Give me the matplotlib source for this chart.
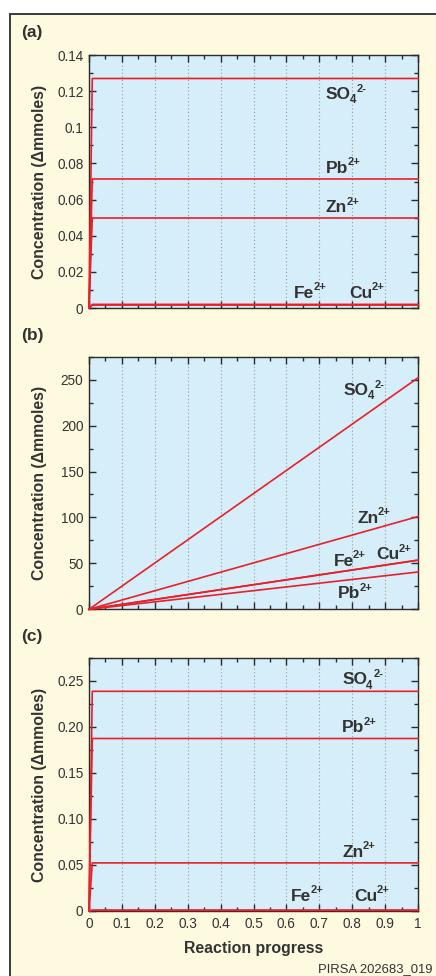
import matplotlib
matplotlib.use("Agg")
import matplotlib.pyplot as plt
from matplotlib.patches import Rectangle
from matplotlib.transforms import offset_copy
from matplotlib.ticker import FixedLocator, MultipleLocator

# ---------------- data ----------------
progress_ac = [0.0, 0.01, 1.0]
a_so4 = [0.0, 0.127, 0.127]
a_pb = [0.0, 0.0714, 0.0714]
a_zn = [0.0, 0.0498, 0.0498]
a_fe = [0.0, 0.0016, 0.0016]
a_cu = [0.0, 0.0020, 0.0020]

progress_b = [0.0, 1.0]
b_so4 = [0.0, 252.0]
b_zn = [0.0, 101.0]
b_fe = [0.0, 53.5]
b_cu = [0.0, 53.5]
b_pb = [0.0, 40.6]

c_so4 = [0.0, 0.2388, 0.2388]
c_pb = [0.0, 0.1875, 0.1875]
c_zn = [0.0, 0.0523, 0.0523]
c_fe = [0.0, 0.0008, 0.0008]
c_cu = [0.0, 0.0008, 0.0008]

x_ticks = [0, 0.1, 0.2, 0.3, 0.4, 0.5, 0.6, 0.7, 0.8, 0.9, 1.0]
x_ticklabels = ["0", "0.1", "0.2", "0.3", "0.4", "0.5", "0.6", "0.7", "0.8", "0.9", "1"]
a_yticks = [0, 0.02, 0.04, 0.06, 0.08, 0.10, 0.12, 0.14]
a_yticklabels = ["0", "0.02", "0.04", "0.06", "0.08", "0.1", "0.12", "0.14"]
b_yticks = [0, 50, 100, 150, 200, 250]
b_yticklabels = ["0", "50", "100", "150", "200", "250"]
c_yticks = [0, 0.05, 0.10, 0.15, 0.20, 0.25]
c_yticklabels = ["0", "0.05", "0.10", "0.15", "0.20", "0.25"]

# ---------------- style ----------------
FONT = ["Liberation Sans", "DejaVu Sans"]
plt.rcParams["font.family"] = FONT
CREAM = "#FEFADF"
BLUE = "#D6EEF9"
RED = "#E8202A"
DARK = "#2B2B2B"
TXT = "#333333"

W, H = 436, 976
fig = plt.figure(figsize=(W / 100, H / 100), dpi=100)
fig.patch.set_facecolor("white")

# outer frame
fig.patches.append(Rectangle((10 / W, -0.05), 1.2, 1 - 14 / H + 0.05,
                             transform=fig.transFigure, facecolor=CREAM,
                             edgecolor=DARK, lw=1.3, zorder=-10))

def px_axes(top, bottom, left=89, right=418):
    return [left / W, 1 - bottom / H, (right - left) / W, (bottom - top) / H]

ax_a = fig.add_axes(px_axes(55, 308))
ax_b = fig.add_axes(px_axes(356.7, 609.3))
ax_c = fig.add_axes(px_axes(658, 911))

def style_axes(ax, ylim, yticks, yticklabels, yminor, show_x):
    ax.set_facecolor(BLUE)
    ax.set_xlim(0, 1)
    ax.set_ylim(*ylim)
    ax.xaxis.set_major_locator(FixedLocator(x_ticks))
    ax.xaxis.set_minor_locator(MultipleLocator(0.05))
    ax.yaxis.set_major_locator(FixedLocator(yticks))
    ax.yaxis.set_minor_locator(MultipleLocator(yminor))
    ax.set_yticklabels(yticklabels)
    if show_x:
        ax.set_xticklabels(x_ticklabels)
    else:
        ax.set_xticklabels([])
    ax.tick_params(which="both", direction="in", top=True, right=True,
                   color=DARK, labelcolor=TXT, labelsize=9.8)
    ax.tick_params(which="major", length=5.2, width=1.0)
    ax.tick_params(which="minor", length=3.2, width=1.0)
    ax.tick_params(axis="y", pad=4)
    ax.tick_params(axis="x", pad=4)
    for s in ax.spines.values():
        s.set_color(DARK)
        s.set_linewidth(1.0)
    ax.grid(axis="x", which="major", color="#9A9A9A", linestyle=(0, (1, 2.2)), lw=0.8)
    ax.set_axisbelow(True)
    ax.set_ylabel("Concentration (\u0394mmoles)", fontsize=11.4, fontweight="bold", color=TXT)
    ax.yaxis.set_label_coords(-0.128, 0.5)

style_axes(ax_a, (0, 0.14), a_yticks, a_yticklabels, 0.01, False)
style_axes(ax_b, (0, 275), b_yticks, b_yticklabels, 25, False)
style_axes(ax_c, (0, 0.275), c_yticks, c_yticklabels, 0.025, True)
ax_c.set_xlabel("Reaction progress", fontsize=11.4, fontweight="bold", color=TXT)
ax_c.xaxis.set_label_coords(0.5, -0.117)

lw = 1.2
for ys in (a_so4, a_pb, a_zn, a_fe, a_cu):
    ax_a.plot(progress_ac, ys, color=RED, lw=lw, clip_on=False, zorder=3)
for ys in (b_so4, b_zn, b_fe, b_cu, b_pb):
    ax_b.plot(progress_b, ys, color=RED, lw=lw, clip_on=False, zorder=3)
for ys in (c_so4, c_pb, c_zn, c_fe, c_cu):
    ax_c.plot(progress_ac, ys, color=RED, lw=lw, clip_on=False, zorder=3)

# panel letters
for lab, ypx in (("(a)", 33), ("(b)", 335), ("(c)", 636)):
    fig.text(21 / W, 1 - ypx / H, lab, fontsize=12.5, fontweight="bold",
             color=TXT, ha="left", va="center")

renderer = fig.canvas.get_renderer()

def ion(ax, x, y, base, sub=None, sup=None):
    kw = dict(fontweight="bold", color=TXT, ha="left", va="baseline", zorder=5)
    t = ax.text(x, y, base, fontsize=12.5, **kw)
    xoff = t.get_window_extent(renderer=renderer).width - 1.0
    if sub:
        ts = ax.text(x, y, sub, fontsize=8.3,
                     transform=offset_copy(ax.transData, fig=fig, x=xoff, y=-4.2, units="dots"), **kw)
        xoff += ts.get_window_extent(renderer=renderer).width + 0.5
    if sup:
        ax.text(x, y, sup, fontsize=8,
                transform=offset_copy(ax.transData, fig=fig, x=xoff, y=7.2, units="dots"), **kw)

# panel (a)
ion(ax_a, 0.72, 0.1157, "SO", "4", "2-")
ion(ax_a, 0.72, 0.0749, "Pb", None, "2+")
ion(ax_a, 0.72, 0.0531, "Zn", None, "2+")
ion(ax_a, 0.624, 0.0057, "Fe", None, "2+")
ion(ax_a, 0.79, 0.0057, "Cu", None, "2+")

# panel (b)
ion(ax_b, 0.775, 233, "SO", "4", "2-")
ion(ax_b, 0.816, 94.3, "Zn", None, "2+")
ion(ax_b, 0.743, 47.5, "Fe", None, "2+")
ion(ax_b, 0.874, 54.8, "Cu", None, "2+")
ion(ax_b, 0.757, 12.0, "Pb", None, "2+")

# panel (c)
ion(ax_c, 0.77, 0.2464, "SO", "4", "2-")
ion(ax_c, 0.77, 0.1944, "Pb", None, "2+")
ion(ax_c, 0.77, 0.0592, "Zn", None, "2+")
ion(ax_c, 0.614, 0.0112, "Fe", None, "2+")
ion(ax_c, 0.806, 0.0112, "Cu", None, "2+")

fig.text(432 / W, 1 - 972.5 / H, "PIRSA 202683_019", fontsize=9.4,
         color=TXT, ha="right", va="baseline")

fig.savefig("out.png", dpi=100, facecolor=fig.get_facecolor())
